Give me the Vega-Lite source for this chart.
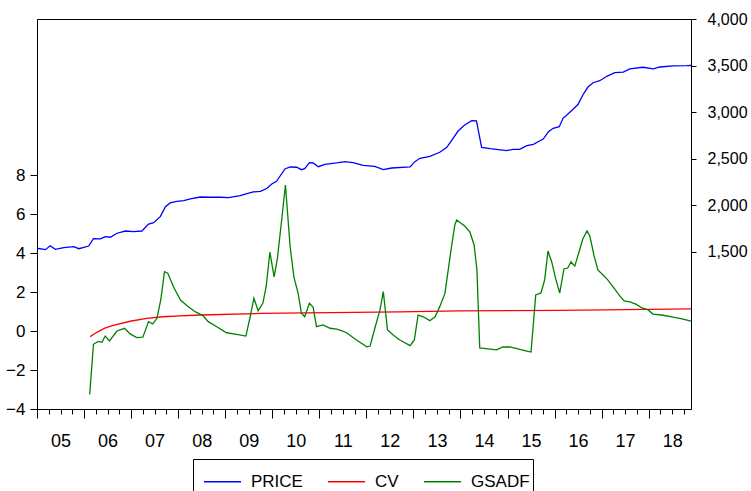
{
  "$schema": "https://vega.github.io/schema/vega-lite/v6.json",
  "width": 654,
  "height": 390,
  "autosize": {"type": "none"},
  "padding": {"left": 37, "top": 19, "right": 60, "bottom": 82},
  "config": {
    "view": {"stroke": "#000", "strokeWidth": 1},
    "font": "Liberation Sans",
    "axis": {"domainColor": "#000", "tickColor": "#000", "labelColor": "#000", "labelFont": "Liberation Sans", "labelFontSize": 17, "grid": false, "title": null}
  },
  "datasets": {
    "price": [
      {"t": 2005.00, "price": 1540}, {"t": 2005.18, "price": 1525}, {"t": 2005.28, "price": 1567}, {"t": 2005.39, "price": 1529},
      {"t": 2005.57, "price": 1546}, {"t": 2005.78, "price": 1557}, {"t": 2005.89, "price": 1535}, {"t": 2006.10, "price": 1564},
      {"t": 2006.20, "price": 1643}, {"t": 2006.35, "price": 1640}, {"t": 2006.45, "price": 1664}, {"t": 2006.56, "price": 1658},
      {"t": 2006.70, "price": 1701}, {"t": 2006.88, "price": 1725}, {"t": 2007.05, "price": 1718}, {"t": 2007.23, "price": 1725},
      {"t": 2007.37, "price": 1800}, {"t": 2007.48, "price": 1814}, {"t": 2007.62, "price": 1879}, {"t": 2007.73, "price": 1986},
      {"t": 2007.83, "price": 2026}, {"t": 2007.97, "price": 2044}, {"t": 2008.12, "price": 2050}, {"t": 2008.26, "price": 2069},
      {"t": 2008.47, "price": 2090}, {"t": 2008.68, "price": 2087}, {"t": 2008.90, "price": 2087}, {"t": 2009.07, "price": 2083},
      {"t": 2009.32, "price": 2104}, {"t": 2009.46, "price": 2126}, {"t": 2009.60, "price": 2144}, {"t": 2009.75, "price": 2151},
      {"t": 2009.89, "price": 2183}, {"t": 2009.99, "price": 2230}, {"t": 2010.09, "price": 2259}, {"t": 2010.27, "price": 2391},
      {"t": 2010.38, "price": 2412}, {"t": 2010.52, "price": 2409}, {"t": 2010.62, "price": 2383}, {"t": 2010.69, "price": 2394},
      {"t": 2010.79, "price": 2458}, {"t": 2010.87, "price": 2455}, {"t": 2010.98, "price": 2415}, {"t": 2011.12, "price": 2441},
      {"t": 2011.37, "price": 2455}, {"t": 2011.54, "price": 2469}, {"t": 2011.72, "price": 2458}, {"t": 2011.93, "price": 2430},
      {"t": 2012.18, "price": 2419}, {"t": 2012.36, "price": 2383}, {"t": 2012.54, "price": 2401}, {"t": 2012.93, "price": 2412},
      {"t": 2013.03, "price": 2469}, {"t": 2013.14, "price": 2505}, {"t": 2013.35, "price": 2527}, {"t": 2013.56, "price": 2570},
      {"t": 2013.71, "price": 2623}, {"t": 2013.81, "price": 2694}, {"t": 2013.95, "price": 2798}, {"t": 2014.09, "price": 2863},
      {"t": 2014.24, "price": 2909}, {"t": 2014.34, "price": 2906}, {"t": 2014.45, "price": 2623}, {"t": 2014.63, "price": 2608},
      {"t": 2014.98, "price": 2587}, {"t": 2015.12, "price": 2602}, {"t": 2015.26, "price": 2602}, {"t": 2015.41, "price": 2640},
      {"t": 2015.55, "price": 2655}, {"t": 2015.65, "price": 2683}, {"t": 2015.76, "price": 2712}, {"t": 2015.87, "price": 2791},
      {"t": 2015.97, "price": 2827}, {"t": 2016.10, "price": 2844}, {"t": 2016.18, "price": 2934}, {"t": 2016.29, "price": 2984},
      {"t": 2016.40, "price": 3034}, {"t": 2016.50, "price": 3085}, {"t": 2016.61, "price": 3192}, {"t": 2016.71, "price": 3270},
      {"t": 2016.82, "price": 3316}, {"t": 2016.96, "price": 3338}, {"t": 2017.11, "price": 3385}, {"t": 2017.28, "price": 3424},
      {"t": 2017.46, "price": 3431}, {"t": 2017.60, "price": 3464}, {"t": 2017.88, "price": 3482}, {"t": 2018.10, "price": 3464},
      {"t": 2018.24, "price": 3485}, {"t": 2018.52, "price": 3496}, {"t": 2018.81, "price": 3499}, {"t": 2018.90, "price": 3501}
    ],
    "cv": [
      {"t": 2006.13, "cv": -0.29}, {"t": 2006.23, "cv": -0.13}, {"t": 2006.34, "cv": 0.02}, {"t": 2006.44, "cv": 0.15},
      {"t": 2006.62, "cv": 0.29}, {"t": 2006.98, "cv": 0.50}, {"t": 2007.33, "cv": 0.65}, {"t": 2007.68, "cv": 0.73},
      {"t": 2008.04, "cv": 0.78}, {"t": 2008.46, "cv": 0.82}, {"t": 2009.74, "cv": 0.90}, {"t": 2011.23, "cv": 0.94},
      {"t": 2012.71, "cv": 0.98}, {"t": 2013.99, "cv": 1.03}, {"t": 2016.11, "cv": 1.06}, {"t": 2018.90, "cv": 1.13}
    ],
    "gsadf": [
      {"t": 2006.12, "g": -3.25}, {"t": 2006.20, "g": -0.68}, {"t": 2006.30, "g": -0.53}, {"t": 2006.38, "g": -0.58},
      {"t": 2006.45, "g": -0.26}, {"t": 2006.54, "g": -0.51}, {"t": 2006.70, "g": 0.00}, {"t": 2006.86, "g": 0.14},
      {"t": 2006.98, "g": -0.15}, {"t": 2007.12, "g": -0.34}, {"t": 2007.25, "g": -0.32}, {"t": 2007.37, "g": 0.48},
      {"t": 2007.46, "g": 0.36}, {"t": 2007.55, "g": 0.65}, {"t": 2007.63, "g": 1.59}, {"t": 2007.71, "g": 3.04},
      {"t": 2007.78, "g": 2.96}, {"t": 2007.90, "g": 2.27}, {"t": 2008.05, "g": 1.59}, {"t": 2008.19, "g": 1.30},
      {"t": 2008.36, "g": 0.99}, {"t": 2008.53, "g": 0.78}, {"t": 2008.64, "g": 0.48}, {"t": 2008.82, "g": 0.22},
      {"t": 2009.03, "g": -0.09}, {"t": 2009.24, "g": -0.17}, {"t": 2009.44, "g": -0.26}, {"t": 2009.53, "g": 0.73},
      {"t": 2009.61, "g": 1.68}, {"t": 2009.70, "g": 1.04}, {"t": 2009.80, "g": 1.42}, {"t": 2009.87, "g": 2.27},
      {"t": 2009.95, "g": 4.04}, {"t": 2010.04, "g": 2.78}, {"t": 2010.11, "g": 3.73}, {"t": 2010.20, "g": 5.69},
      {"t": 2010.28, "g": 7.49}, {"t": 2010.38, "g": 4.32}, {"t": 2010.46, "g": 2.78}, {"t": 2010.55, "g": 1.93},
      {"t": 2010.62, "g": 0.91}, {"t": 2010.69, "g": 0.73}, {"t": 2010.79, "g": 1.42}, {"t": 2010.87, "g": 1.22},
      {"t": 2010.94, "g": 0.22}, {"t": 2011.08, "g": 0.31}, {"t": 2011.23, "g": 0.14}, {"t": 2011.37, "g": 0.10},
      {"t": 2011.47, "g": 0.02}, {"t": 2011.58, "g": -0.09}, {"t": 2011.79, "g": -0.46}, {"t": 2012.01, "g": -0.81},
      {"t": 2012.08, "g": -0.77}, {"t": 2012.18, "g": 0.14}, {"t": 2012.29, "g": 1.08}, {"t": 2012.36, "g": 2.02},
      {"t": 2012.45, "g": 0.05}, {"t": 2012.57, "g": -0.21}, {"t": 2012.71, "g": -0.46}, {"t": 2012.93, "g": -0.75},
      {"t": 2013.02, "g": -0.46}, {"t": 2013.10, "g": 0.82}, {"t": 2013.21, "g": 0.73}, {"t": 2013.35, "g": 0.53},
      {"t": 2013.46, "g": 0.73}, {"t": 2013.56, "g": 1.25}, {"t": 2013.67, "g": 1.93}, {"t": 2013.74, "g": 3.13},
      {"t": 2013.81, "g": 4.32}, {"t": 2013.88, "g": 5.44}, {"t": 2013.92, "g": 5.69}, {"t": 2014.09, "g": 5.38},
      {"t": 2014.20, "g": 5.08}, {"t": 2014.29, "g": 4.41}, {"t": 2014.35, "g": 3.13}, {"t": 2014.41, "g": -0.87},
      {"t": 2014.58, "g": -0.92}, {"t": 2014.77, "g": -0.97}, {"t": 2014.90, "g": -0.82}, {"t": 2015.05, "g": -0.82},
      {"t": 2015.22, "g": -0.92}, {"t": 2015.41, "g": -1.03}, {"t": 2015.50, "g": -1.08}, {"t": 2015.60, "g": 1.85},
      {"t": 2015.71, "g": 1.95}, {"t": 2015.79, "g": 2.62}, {"t": 2015.86, "g": 4.10}, {"t": 2015.94, "g": 3.54},
      {"t": 2016.03, "g": 2.62}, {"t": 2016.11, "g": 1.95}, {"t": 2016.20, "g": 3.18}, {"t": 2016.28, "g": 3.23},
      {"t": 2016.35, "g": 3.54}, {"t": 2016.43, "g": 3.33}, {"t": 2016.52, "g": 4.05}, {"t": 2016.60, "g": 4.72},
      {"t": 2016.69, "g": 5.13}, {"t": 2016.75, "g": 4.87}, {"t": 2016.84, "g": 3.85}, {"t": 2016.92, "g": 3.13},
      {"t": 2017.03, "g": 2.87}, {"t": 2017.13, "g": 2.62}, {"t": 2017.26, "g": 2.21}, {"t": 2017.39, "g": 1.79},
      {"t": 2017.48, "g": 1.54}, {"t": 2017.60, "g": 1.49}, {"t": 2017.73, "g": 1.38}, {"t": 2017.86, "g": 1.18},
      {"t": 2017.99, "g": 1.08}, {"t": 2018.09, "g": 0.87}, {"t": 2018.28, "g": 0.82}, {"t": 2018.49, "g": 0.72},
      {"t": 2018.71, "g": 0.62}, {"t": 2018.90, "g": 0.51}
    ]
  },
  "encoding": {
    "x": {
      "field": "t",
      "type": "quantitative",
      "scale": {"domain": [2005, 2018.9], "nice": false, "zero": false},
      "axis": {
        "values": [2005, 2005.25, 2005.5, 2005.75, 2006, 2006.25, 2006.5, 2006.75, 2007, 2007.25, 2007.5, 2007.75, 2008, 2008.25, 2008.5, 2008.75, 2009, 2009.25, 2009.5, 2009.75, 2010, 2010.25, 2010.5, 2010.75, 2011, 2011.25, 2011.5, 2011.75, 2012, 2012.25, 2012.5, 2012.75, 2013, 2013.25, 2013.5, 2013.75, 2014, 2014.25, 2014.5, 2014.75, 2015, 2015.25, 2015.5, 2015.75, 2016, 2016.25, 2016.5, 2016.75, 2017, 2017.25, 2017.5, 2017.75, 2018, 2018.25, 2018.5, 2018.75],
        "tickSize": {"condition": {"test": "datum.value % 1 === 0", "value": 9}, "value": 5},
        "labelExpr": "datum.value % 1 === 0 ? substring('' + datum.value, 2, 4) : ''",
        "labelOffset": 23.5,
        "labelPadding": 14,
        "labelFontSize": 18,
        "labelFlush": false,
        "labelOverlap": false,
        "labelBound": false,
        "title": null
      }
    }
  },
  "layer": [
    {
      "layer": [
        {
          "data": {"name": "cv"},
          "mark": {"type": "line", "color": "#ff0000", "strokeWidth": 1.3},
          "encoding": {
            "y": {"field": "cv", "type": "quantitative", "scale": {"domain": [-4, 16], "nice": false, "zero": false},
              "axis": {"orient": "left", "values": [-4, -2, 0, 2, 4, 6, 8], "tickSize": 7, "labelPadding": 5, "title": null}},
            "color": {"datum": "CV", "type": "nominal", "scale": {"domain": ["PRICE", "CV", "GSADF"], "range": ["#0000ff", "#ff0000", "#008000"]},
              "legend": {"orient": "none", "legendX": 156, "legendY": 440, "direction": "horizontal", "title": null, "symbolType": "stroke", "symbolSize": 1369, "symbolStrokeWidth": 1.3, "labelFontSize": 17, "labelFont": "Liberation Sans", "labelColor": "#000", "strokeColor": "#000", "fillColor": "#fff", "padding": 3, "symbolOffset": 7, "labelOffset": 9, "columnPadding": 17}}
          }
        },
        {
          "data": {"name": "gsadf"},
          "mark": {"type": "line", "color": "#008000", "strokeWidth": 1.3},
          "encoding": {
            "y": {"field": "g", "type": "quantitative", "scale": {"domain": [-4, 16], "nice": false, "zero": false},
              "axis": {"orient": "left", "values": [-4, -2, 0, 2, 4, 6, 8], "tickSize": 7, "labelPadding": 5, "title": null}},
            "color": {"datum": "GSADF", "type": "nominal"}
          }
        }
      ]
    },
    {
      "data": {"name": "price"},
      "mark": {"type": "line", "color": "#0000ff", "strokeWidth": 1.3},
      "encoding": {
        "y": {"field": "price", "type": "quantitative", "scale": {"domain": [-185, 4000], "nice": false, "zero": false},
          "axis": {"orient": "right", "values": [1500, 2000, 2500, 3000, 3500, 4000], "format": ",.0f", "tickSize": 5, "labelPadding": 11, "labelFontSize": 16, "title": null}},
        "color": {"datum": "PRICE", "type": "nominal"}
      }
    }
  ],
  "resolve": {"scale": {"y": "independent"}}
}
